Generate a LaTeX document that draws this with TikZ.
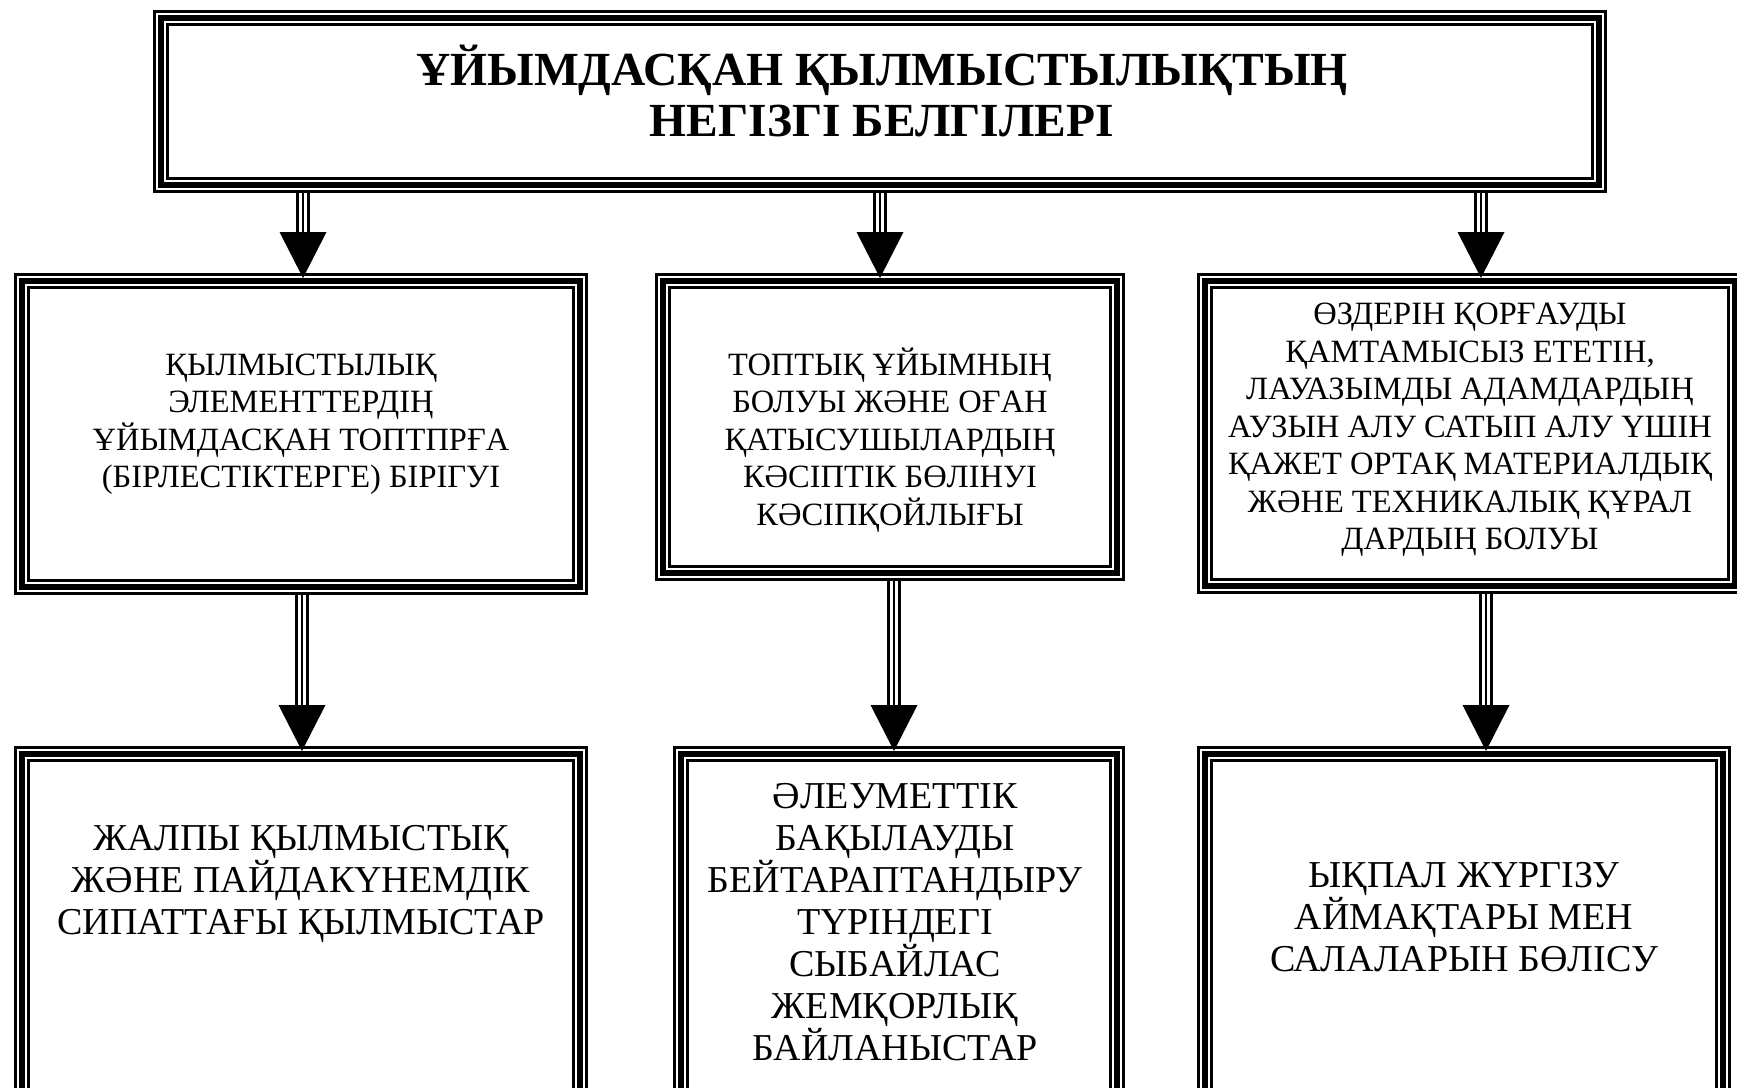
\documentclass[tikz,border=0pt]{standalone}
\usepackage{fontspec}
\setmainfont{Liberation Serif}
\newcommand\tarrow[3]{%
  \coordinate (tmpS) at (#1.south -| #3);
  \coordinate (tmpT) at (#2.north -| #3);
  \coordinate (tmpB) at ([yshift=41pt]tmpT);
  \coordinate (tmpP) at ([yshift=-5pt]tmpT);
  \draw[shaftside] ([xshift=-5.3pt]tmpS) -- ([xshift=-5.3pt]tmpB);
  \draw[shaftside] ([xshift=5.3pt]tmpS) -- ([xshift=5.3pt]tmpB);
  \draw[shaftmid] (tmpS) -- (tmpB);
  \fill[black] ([xshift=-23.5pt]tmpB) -- ([xshift=23.5pt]tmpB) -- (tmpP) -- cycle;
}
\begin{document}
\begin{tikzpicture}[x=1pt,y=-1pt,
  tribox/.style={rectangle, inner sep=0pt, outer sep=0pt,
    path picture={
      \draw[line width=2.6pt] ([xshift=1.3pt,yshift=-1.3pt]path picture bounding box.north west) rectangle ([xshift=-1.3pt,yshift=1.3pt]path picture bounding box.south east);
      \draw[line width=6.2pt] ([xshift=7.9pt,yshift=-7.9pt]path picture bounding box.north west) rectangle ([xshift=-7.9pt,yshift=7.9pt]path picture bounding box.south east);
      \draw[line width=2.6pt] ([xshift=14.5pt,yshift=-14.5pt]path picture bounding box.north west) rectangle ([xshift=-14.5pt,yshift=14.5pt]path picture bounding box.south east);
    }},
  shaftside/.style={line width=3.3pt},
  shaftmid/.style={line width=2pt},
  titletext/.style={align=center, inner sep=0pt, font=\fontsize{47.5pt}{51pt}\selectfont\bfseries},
  midtext/.style={align=center, inner sep=0pt, font=\fontsize{32.5pt}{37.5pt}\selectfont},
  lowtext/.style={align=center, inner sep=0pt, font=\fontsize{38pt}{42pt}\selectfont}
]
\useasboundingbox (0,0) rectangle (1737,1087);
\clip (0,0) rectangle (1737,1087);
\fill[white] (0,0) rectangle (1737,1087);

% boxes
\node[tribox, minimum width=1454pt, minimum height=183pt] (T) at (880,101.5) {};
\node[tribox, minimum width=574pt, minimum height=322pt] (A) at (301,434) {};
\node[tribox, minimum width=470pt, minimum height=308pt] (B) at (890,427) {};
\node[tribox, minimum width=546pt, minimum height=321pt] (C) at (1470,433.5) {};
\node[tribox, minimum width=574pt, minimum height=364pt] (D) at (301,928) {};
\node[tribox, minimum width=452pt, minimum height=364pt] (E) at (899,928) {};
\node[tribox, minimum width=534pt, minimum height=364pt] (F) at (1464,928) {};

% texts
\node[titletext] (Tt) at (882,91) {ҰЙЫМДАСҚАН ҚЫЛМЫСТЫЛЫҚТЫҢ\\НЕГІЗГІ БЕЛГІЛЕРІ};
\node[midtext] (At) at (301,424) {ҚЫЛМЫСТЫЛЫҚ\\ЭЛЕМЕНТТЕРДІҢ\\ҰЙЫМДАСҚАН ТОПТПРҒА\\(БІРЛЕСТІКТЕРГЕ) БІРІГУІ};
\node[midtext] (Bt) at (890,440) {ТОПТЫҚ ҰЙЫМНЫҢ\\БОЛУЫ ЖӘНЕ ОҒАН\\ҚАТЫСУШЫЛАРДЫҢ\\КӘСІПТІК БӨЛІНУІ\\КӘСІПҚОЙЛЫҒЫ};
\node[midtext] (Ct) at (1470,430) {ӨЗДЕРІН ҚОРҒАУДЫ\\ҚАМТАМЫСЫЗ ЕТЕТІН,\\ЛАУАЗЫМДЫ АДАМДАРДЫҢ\\АУЗЫН АЛУ САТЫП АЛУ ҮШІН\\ҚАЖЕТ ОРТАҚ МАТЕРИАЛДЫҚ\\ЖӘНЕ ТЕХНИКАЛЫҚ ҚҰРАЛ\\ДАРДЫҢ БОЛУЫ};
\node[lowtext] (Dt) at (301,884) {ЖАЛПЫ ҚЫЛМЫСТЫҚ\\ЖӘНЕ ПАЙДАКҮНЕМДІК\\СИПАТТАҒЫ ҚЫЛМЫСТАР};
\node[lowtext] (Et) at (895,922) {ӘЛЕУМЕТТІК\\БАҚЫЛАУДЫ\\БЕЙТАРАПТАНДЫРУ\\ТҮРІНДЕГІ\\СЫБАЙЛАС\\ЖЕМҚОРЛЫҚ\\БАЙЛАНЫСТАР};
\node[lowtext] (Ft) at (1464,917) {ЫҚПАЛ ЖҮРГІЗУ\\АЙМАҚТАРЫ МЕН\\САЛАЛАРЫН БӨЛІСУ};

% arrow positions
\coordinate (xTA) at (303,0);
\coordinate (xTB) at (880,0);
\coordinate (xTC) at (1481,0);
\coordinate (xAD) at (302,0);
\coordinate (xBE) at (894,0);
\coordinate (xCF) at (1486,0);

\tarrow{T}{A}{xTA}
\tarrow{T}{B}{xTB}
\tarrow{T}{C}{xTC}
\tarrow{A}{D}{xAD}
\tarrow{B}{E}{xBE}
\tarrow{C}{F}{xCF}
\end{tikzpicture}
\end{document}
